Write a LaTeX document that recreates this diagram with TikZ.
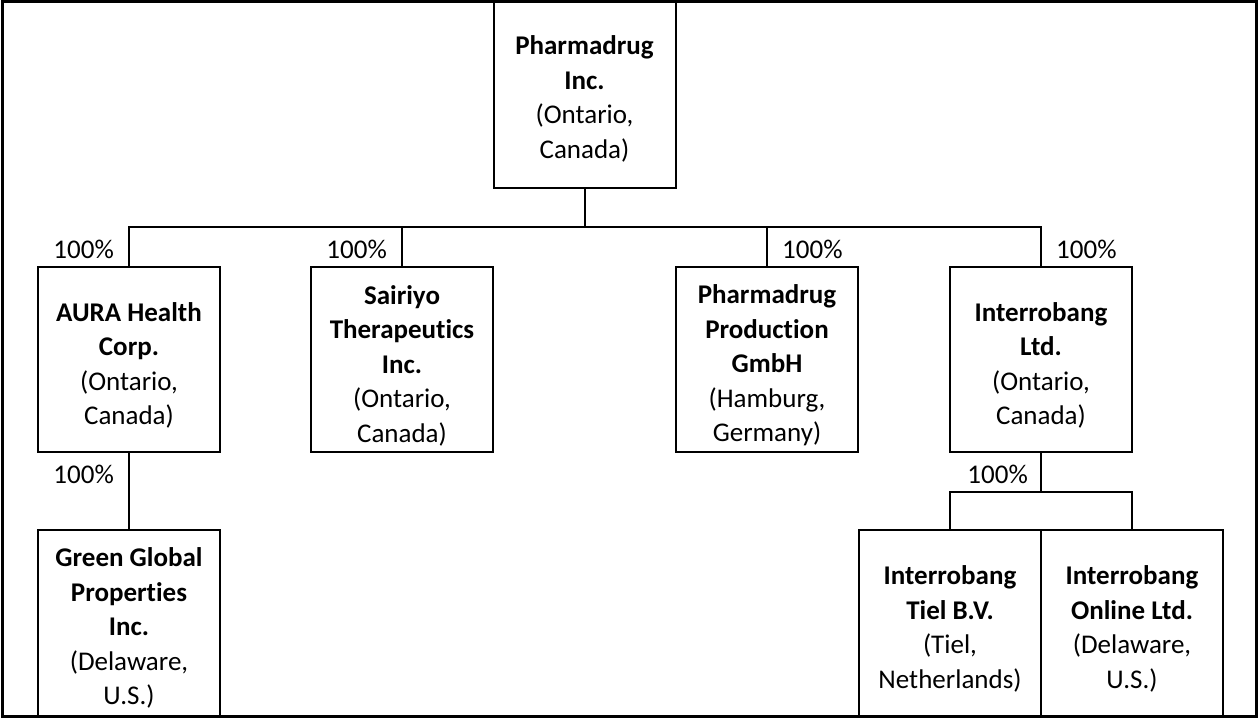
\documentclass[tikz,border=0pt]{standalone}
\usepackage{fontspec}
\setmainfont{Carlito}[Ligatures=NoCommon]
\begin{document}
\begin{tikzpicture}[x=1pt,y=-1pt,
  box/.style={draw, line width=2pt, inner sep=0pt, outer sep=0pt,
    minimum width=182pt},
  txt/.style={inner sep=0pt, align=center, font=\fontsize{27}{34.5}\selectfont},
  pct/.style={inner sep=0pt, font=\fontsize{27}{34.5}\selectfont},
  link/.style={line width=2pt}]
\useasboundingbox (0,0) rectangle (1259,719);
\draw[line width=3pt] (2,2) rectangle (1256,716);
% boxes
\node[box, minimum height=188pt] (top) at (584.5,94) {};
\node[box, minimum height=185pt] (aura) at (129,359.5) {};
\node[box, minimum height=185pt] (sai) at (402,359.5) {};
\node[box, minimum height=185pt] (prod) at (767,359.5) {};
\node[box, minimum height=185pt] (intl) at (1041,359.5) {};
\node[box, minimum height=186pt] (green) at (129,623) {};
\node[box, minimum height=186pt] (tiel) at (950,623) {};
\node[box, minimum height=186pt] (online) at (1132,623) {};
% texts
\node[txt] (top-t) at ([yshift=-5pt]top.center)
  {\textbf{Pharmadrug}\\\textbf{Inc.}\\(Ontario,\\Canada)};
\node[txt] (aura-t) at ([yshift=-6pt]aura.center)
  {\textbf{AURA Health}\\\textbf{Corp.}\\(Ontario,\\Canada)};
\node[txt] (sai-t) at ([yshift=-6pt]sai.center)
  {\textbf{Sairiyo}\\\textbf{Therapeutics}\\\textbf{Inc.}\\(Ontario,\\Canada)};
\node[txt] (prod-t) at ([yshift=-6pt]prod.center)
  {\textbf{Pharmadrug}\\\textbf{Production}\\\textbf{GmbH}\\(Hamburg,\\Germany)};
\node[txt] (intl-t) at ([yshift=-6pt]intl.center)
  {\textbf{Interrobang}\\\textbf{Ltd.}\\(Ontario,\\Canada)};
\node[txt] (green-t) at ([yshift=-5pt]green.center)
  {\textbf{Green Global}\\\textbf{Properties}\\\textbf{Inc.}\\(Delaware,\\U.S.)};
\node[txt] (tiel-t) at ([yshift=-6pt]tiel.center)
  {\textbf{Interrobang}\\\textbf{Tiel B.V.}\\(Tiel,\\Netherlands)};
\node[txt] (online-t) at ([yshift=-6pt]online.center)
  {\textbf{Interrobang}\\\textbf{Online Ltd.}\\(Delaware,\\U.S.)};
% connectors
\coordinate (bus) at (584.5,227);
\coordinate (bus2) at (1041,492);
\draw[link] (top.south) -- (bus);
\draw[link] (aura.north) |- (bus) -| (intl.north);
\draw[link] (sai.north) -- (sai.north |- bus);
\draw[link] (prod.north) -- (prod.north |- bus);
\draw[link] (aura.south) -- (green.north);
\draw[link] (intl.south) -- (bus2);
\draw[link] (tiel.north) |- (bus2) -| (online.north);
% labels
\node[pct, anchor=base east] (la) at ([xshift=-15pt,yshift=8pt]aura.north) {100\%};
\node[pct, anchor=base east] (ls) at ([xshift=-15pt,yshift=8pt]sai.north) {100\%};
\node[pct, anchor=base west] (lp) at ([xshift=15pt,yshift=8pt]prod.north) {100\%};
\node[pct, anchor=base west] (li) at ([xshift=15pt,yshift=8pt]intl.north) {100\%};
\node[pct, anchor=base east] (lg) at ([xshift=-15pt,yshift=-31pt]aura.south) {100\%};
\node[pct, anchor=base east] (lt) at ([xshift=-13pt,yshift=-31pt]intl.south) {100\%};
\end{tikzpicture}
\end{document}
